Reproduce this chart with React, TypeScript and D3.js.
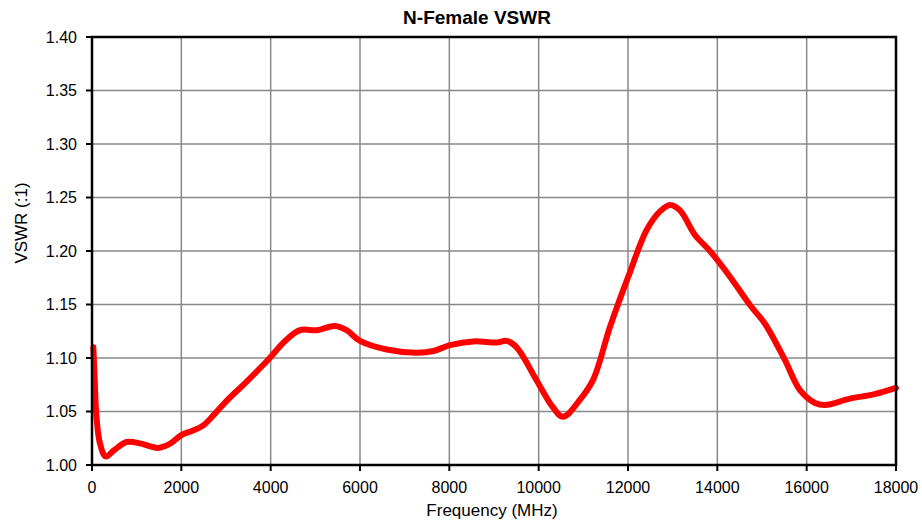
import { useEffect, useRef } from 'react';
import * as d3 from 'd3';

// frequency (MHz)
const freqs = [30, 60, 100, 180, 307, 500, 777, 1100, 1477, 1750, 2000, 2250, 2492, 2750, 3015, 3463, 3980, 4300, 4656, 5030, 5440, 5700, 6000, 6597, 7269, 7642, 8015, 8537, 9060, 9284, 9507, 9955, 10300, 10544, 10925, 11223, 11596, 12006, 12418, 12716, 12940, 13163, 13499, 13835, 14283, 14730, 15066, 15514, 15850, 16186, 16410, 16969, 17500, 18000];
// VSWR values
const vswr = [1.11, 1.08, 1.045, 1.02, 1.008, 1.014, 1.0215, 1.02, 1.016, 1.02, 1.028, 1.032, 1.037, 1.048, 1.06, 1.078, 1.1, 1.115, 1.126, 1.126, 1.13, 1.126, 1.116, 1.108, 1.105, 1.1065, 1.112, 1.1155, 1.1145, 1.116, 1.11, 1.079, 1.055, 1.045, 1.061, 1.08, 1.129, 1.176, 1.2196, 1.237, 1.243, 1.238, 1.215, 1.2, 1.176, 1.1495, 1.132, 1.098, 1.07, 1.058, 1.056, 1.062, 1.066, 1.072];
const xTicks = [0, 2000, 4000, 6000, 8000, 10000, 12000, 14000, 16000, 18000];
const yTicks = [1.0, 1.05, 1.1, 1.15, 1.2, 1.25, 1.3, 1.35, 1.4];

const App = () => {
    const svgRef = useRef(null);

    useEffect(() => {
        const svg = d3.select(svgRef.current);
        svg.selectAll('*').remove();

        const left = 92, right = 896, top = 37, bottom = 465;
        const x = d3.scaleLinear().domain([0, 18000]).range([left, right]);
        const y = d3.scaleLinear().domain([1.0, 1.4]).range([bottom, top]);
        const font = 'Arial, "Liberation Sans", sans-serif';

        // grid
        svg.append('g').selectAll('line.vx')
            .data(xTicks.slice(1, -1))
            .enter().append('line')
            .attr('x1', d => x(d)).attr('x2', d => x(d))
            .attr('y1', top).attr('y2', bottom)
            .attr('stroke', '#888').attr('stroke-width', 1.5);
        svg.append('g').selectAll('line.hy')
            .data(yTicks.slice(1, -1))
            .enter().append('line')
            .attr('x1', left).attr('x2', right)
            .attr('y1', d => y(d)).attr('y2', d => y(d))
            .attr('stroke', '#888').attr('stroke-width', 1.5);

        // data line
        const points = freqs.map((f, i) => [f, vswr[i]]);
        const line = d3.line()
            .x(d => x(d[0]))
            .y(d => y(d[1]))
            .curve(d3.curveCatmullRom.alpha(0.5));
        svg.append('path')
            .attr('d', line(points))
            .attr('fill', 'none')
            .attr('stroke', '#ff0000')
            .attr('stroke-width', 6)
            .attr('stroke-linejoin', 'round')
            .attr('stroke-linecap', 'round');

        // border
        svg.append('rect')
            .attr('x', left).attr('y', top)
            .attr('width', right - left).attr('height', bottom - top)
            .attr('fill', 'none').attr('stroke', '#000').attr('stroke-width', 2.5);

        // ticks
        svg.append('g').selectAll('line')
            .data(yTicks).enter().append('line')
            .attr('x1', left - 6).attr('x2', left)
            .attr('y1', d => y(d)).attr('y2', d => y(d))
            .attr('stroke', '#000').attr('stroke-width', 2);
        svg.append('g').selectAll('line')
            .data(xTicks).enter().append('line')
            .attr('x1', d => x(d)).attr('x2', d => x(d))
            .attr('y1', bottom).attr('y2', bottom + 6)
            .attr('stroke', '#000').attr('stroke-width', 2);

        // tick labels
        svg.append('g').selectAll('text')
            .data(yTicks).enter().append('text')
            .attr('x', 77).attr('y', d => y(d) + 5.5)
            .attr('text-anchor', 'end')
            .style('font-family', font).style('font-size', '16px')
            .text(d => d.toFixed(2));
        svg.append('g').selectAll('text')
            .data(xTicks).enter().append('text')
            .attr('x', d => x(d)).attr('y', 493)
            .attr('text-anchor', 'middle')
            .style('font-family', font).style('font-size', '16px')
            .text(d => d);

        // titles
        svg.append('text')
            .attr('x', 477).attr('y', 24)
            .attr('text-anchor', 'middle')
            .style('font-family', font).style('font-size', '19px').style('font-weight', 'bold')
            .text('N-Female VSWR');
        svg.append('text')
            .attr('x', 492).attr('y', 516)
            .attr('text-anchor', 'middle')
            .style('font-family', font).style('font-size', '17px')
            .text('Frequency (MHz)');
        svg.append('text')
            .attr('transform', 'translate(27, 223) rotate(-90)')
            .attr('text-anchor', 'middle')
            .style('font-family', font).style('font-size', '17px')
            .text('VSWR (:1)');
    }, []);

    return (
        <svg ref={svgRef} width={922} height={521} style={{ position: 'absolute', left: 0, top: 0, background: '#fff' }}></svg>
    );
};

export default App;
